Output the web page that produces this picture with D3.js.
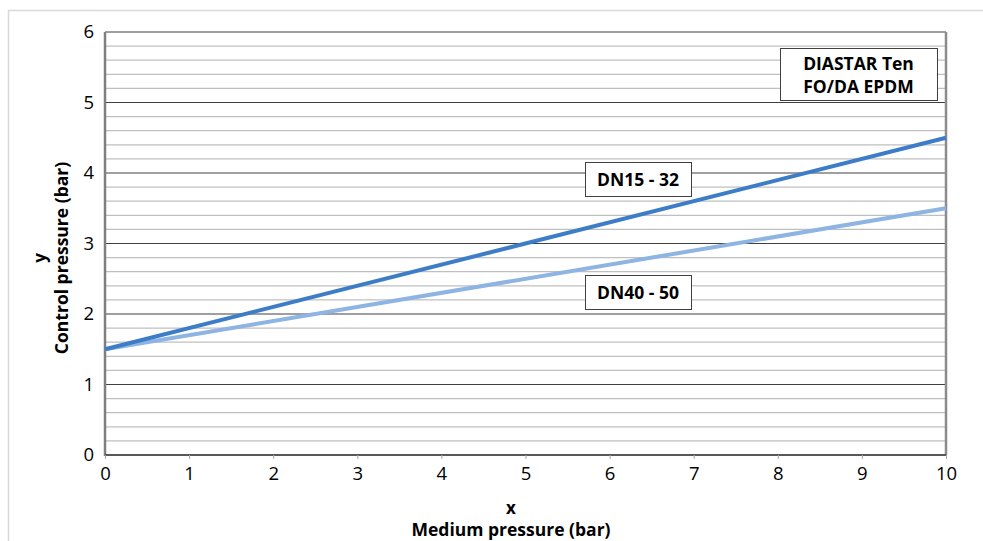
<!DOCTYPE html>
<html><head><meta charset="utf-8">
<script src="https://cdn.jsdelivr.net/npm/d3@7"></script>
<style>body{margin:0;background:#fff;} svg{display:block;font-family:"Open Sans", sans-serif;}</style>
</head><body>
<svg id="c" width="983" height="541"></svg>
<script>
const xTicks = [0,1,2,3,4,5,6,7,8,9,10];
const yTicks = [0,1,2,3,4,5,6];
const seriesNames = ["DN15 - 32", "DN40 - 50"];
const seriesX = [0, 10];
const dn15Values = [1.5, 4.5];
const dn40Values = [1.5, 3.5];
const seriesColors = ["#3d7dc8", "#8eb4e3"];
const titleBox = ["DIASTAR Ten", "FO/DA EPDM"];

const FONT = "'Open Sans', sans-serif";
const svg = d3.select("#c");
const L = 105, R = 946, T = 32, B = 455;
const x = d3.scaleLinear().domain([0,10]).range([L,R]);
const y = d3.scaleLinear().domain([0,6]).range([B,T]);

// outer frame
svg.append("rect").attr("x",8.5).attr("y",10.5).attr("width",1000).attr("height",600)
  .attr("fill","none").attr("stroke","#d9d9d9").attr("stroke-width",1.5);

// minor grid
const minor = d3.range(0, 6.0001, 0.2).filter(v => Math.abs(v - Math.round(v)) > 1e-6);
svg.append("g").selectAll("line").data(minor).join("line")
  .attr("x1",L).attr("x2",R).attr("y1",d=>y(d)).attr("y2",d=>y(d))
  .attr("stroke","#bfbfbf").attr("stroke-width",1.2);
// major grid
svg.append("g").selectAll("line").data(yTicks).join("line")
  .attr("x1",L).attr("x2",R).attr("y1",d=>y(d)).attr("y2",d=>y(d))
  .attr("stroke","#404040").attr("stroke-width",1.2);

// plot border
svg.append("line").attr("x1",R).attr("x2",R).attr("y1",T).attr("y2",B).attr("stroke","#8c8c8c").attr("stroke-width",2.5);
svg.append("line").attr("x1",L).attr("x2",L).attr("y1",T).attr("y2",B+1).attr("stroke","#7f7f7f").attr("stroke-width",2.5);
svg.append("line").attr("x1",L).attr("x2",R).attr("y1",B).attr("y2",B).attr("stroke","#404040").attr("stroke-width",1.5);

// x axis
const xAxis = svg.append("g").attr("transform",`translate(0,${B})`)
  .call(d3.axisBottom(x).tickValues(xTicks).tickSize(4).tickPadding(8).tickFormat(d3.format("d")));
xAxis.select(".domain").remove();
xAxis.selectAll(".tick line").attr("stroke","#a6a6a6");
xAxis.selectAll("text").attr("font-size",18.5).attr("fill","#000").attr("font-family",FONT);

// y axis
const yAxis = svg.append("g").attr("transform",`translate(${L},0)`)
  .call(d3.axisLeft(y).tickValues(yTicks).tickSize(0).tickPadding(11).tickFormat(d3.format("d")));
yAxis.select(".domain").remove();
yAxis.selectAll("text").attr("font-size",18.5).attr("fill","#000").attr("font-family",FONT);

// lines
const line = d3.line().x((d,i)=>x(seriesX[i])).y(d=>y(d));
[dn40Values, dn15Values].forEach((vals,k) => {
  const idx = k===0 ? 1 : 0;
  svg.append("path").datum(vals).attr("d", line)
    .attr("fill","none").attr("stroke",seriesColors[idx]).attr("stroke-width",4);
});

// label boxes
function box(x0,y0,w,h,lines,cy){
  svg.append("rect").attr("x",x0+0.5).attr("y",y0+0.5).attr("width",w).attr("height",h)
    .attr("fill","#fff").attr("stroke","#404040").attr("stroke-width",1);
  lines.forEach((t,i)=>{
    svg.append("text").attr("x",x0+w/2).attr("y",cy[i]).attr("text-anchor","middle")
      .attr("dominant-baseline","central").attr("font-weight","bold").attr("font-size",17.5).text(t);
  });
}
box(585,162,106,34,[seriesNames[0]],[179]);
box(585,275,106,34,[seriesNames[1]],[292]);
box(780,48,157,52,titleBox,[63,86]);

// axis titles
const xtc = 511;
svg.append("text").attr("x",xtc).attr("y",507).attr("text-anchor","middle").attr("dominant-baseline","central")
  .attr("font-weight","bold").attr("font-size",17).text("x");
svg.append("text").attr("x",xtc).attr("y",529).attr("text-anchor","middle").attr("dominant-baseline","central")
  .attr("font-weight","bold").attr("font-size",17.5).text("Medium pressure (bar)");
const cy = 258;
svg.append("text").attr("transform",`translate(39,${cy}) rotate(-90)`).attr("text-anchor","middle").attr("dominant-baseline","central")
  .attr("font-weight","bold").attr("font-size",17).text("y");
svg.append("text").attr("transform",`translate(61,${cy}) rotate(-90)`).attr("text-anchor","middle").attr("dominant-baseline","central")
  .attr("font-weight","bold").attr("font-size",17.5).text("Control pressure (bar)");
</script>
</body></html>
